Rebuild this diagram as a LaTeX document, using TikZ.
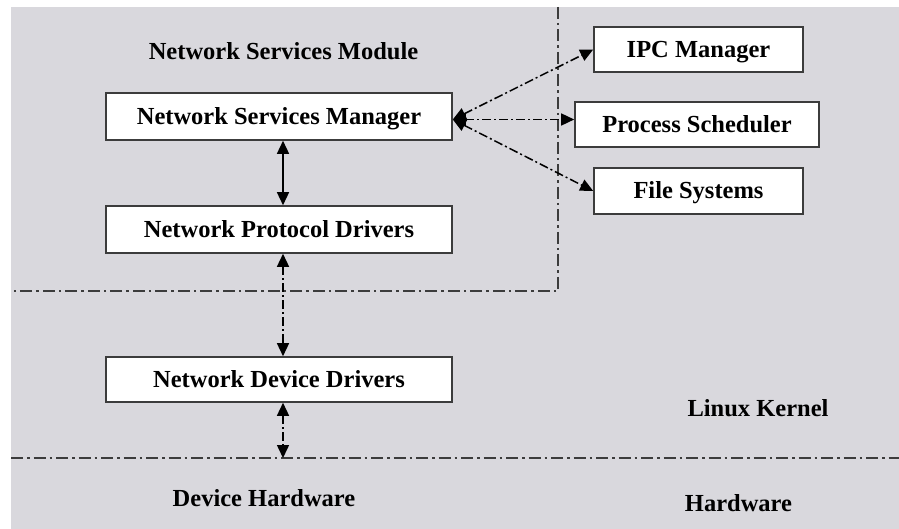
\documentclass[tikz,border=0pt]{standalone}
\usepackage{fontspec}
\setmainfont{Liberation Serif}
\usetikzlibrary{arrows.meta}
\definecolor{panel}{RGB}{217,216,221}
\definecolor{edge}{RGB}{60,60,60}
\tikzset{
  module/.style={draw=edge, line width=1.6pt, fill=white, inner sep=0pt,
    text height=20pt, text depth=4pt},
  label/.style={inner sep=0pt, text height=20pt, text depth=4pt},
  border/.style={draw=edge, line width=1.4pt,
    dash pattern=on 12pt off 4pt on 2.5pt off 4pt},
  link/.style={draw=black, line width=1.5pt,
    {Triangle[length=13pt,width=12pt]}-{Triangle[length=13pt,width=12pt]}},
  dashlink/.style={link, dash pattern=on 9pt off 3pt on 2pt off 3pt},
}
\begin{document}
\begin{tikzpicture}[x=1pt, y=-1pt,
  every node/.style={font=\fontsize{24.5}{29}\selectfont\bfseries}]
  \useasboundingbox (0,0) rectangle (899,529);
  % grey panel
  \fill[panel] (11,7) rectangle (899,529);

  % region borders
  \coordinate (vtop) at (558,7);
  \coordinate (corner) at (558,291);
  \coordinate (hleft) at (11,291);
  \coordinate (kl) at (11,458);
  \coordinate (kr) at (899,458);
  \draw[border] (vtop) -- (corner) -- (hleft);
  \draw[border] (kl) -- (kr);

  % modules
  \node[module, minimum width=346pt, minimum height=47pt] (nsm) at (279,116.5) {Network Services Manager};
  \node[module, minimum width=346pt, minimum height=47pt] (npd) at (279,229.5) {Network Protocol Drivers};
  \node[module, minimum width=346pt, minimum height=45pt] (ndd) at (279,379.5) {Network Device Drivers};
  \node[module, minimum width=209pt, minimum height=45pt] (ipc) at (698.5,49.5) {IPC Manager};
  \node[module, minimum width=244pt, minimum height=45pt] (ps) at (697,124.5) {Process Scheduler};
  \node[module, minimum width=209pt, minimum height=46pt] (fs) at (698.5,191) {File Systems};

  % region labels
  \node[label] (nsmod) at (283.5,52) {Network Services Module};
  \node[label] (lk) at (758,408) {Linux Kernel};
  \node[label] (dh) at (264,498) {Device Hardware};
  \node[label] (hw) at (738.5,503) {Hardware};

  % connectors
  \coordinate (hub) at ([yshift=-3pt]nsm.east);
  \coordinate (hwlink) at (283,458);
  \draw[link] ([xshift=4pt]nsm.south) -- ([xshift=4pt]npd.north);
  \draw[dashlink] ([xshift=4pt]npd.south) -- ([xshift=4pt]ndd.north);
  \draw[dashlink] ([xshift=4pt]ndd.south) -- (hwlink);
  \draw[dashlink] (hub) -- (ipc.west);
  \draw[dashlink] (hub) -- (ps.west |- hub);
  \draw[dashlink] (hub) -- (fs.west);
\end{tikzpicture}
\end{document}
